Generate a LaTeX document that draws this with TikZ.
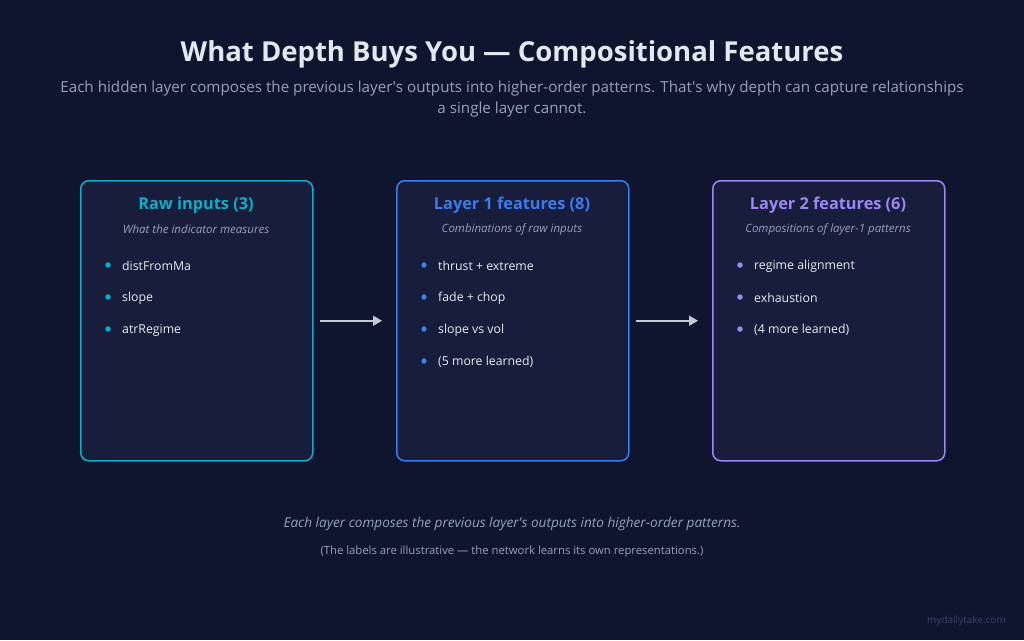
\documentclass[tikz,border=0pt]{standalone}
\usepackage{fontspec}
\setmainfont{Open Sans}
\usetikzlibrary{arrows.meta}
\definecolor{bg}{HTML}{10152F}
\definecolor{boxfill}{HTML}{181D3B}
\definecolor{cyanc}{HTML}{0AAFC8}
\definecolor{bluec}{HTML}{3B7BEF}
\definecolor{purplec}{HTML}{9D86F5}
\definecolor{titlec}{HTML}{E2E8F0}
\definecolor{grayc}{HTML}{94A3B8}
\definecolor{itemc}{HTML}{E8ECF4}
\definecolor{arrowc}{HTML}{C4CAD4}
\definecolor{markc}{HTML}{3A4468}
\tikzset{
  panel/.style={draw=#1, line width=1.5pt, fill=boxfill, rounded corners=8pt, minimum width=232pt, minimum height=280pt, anchor=north west, inner sep=0pt},
  head/.style={text=#1, font=\fontsize{16.3}{19}\selectfont\bfseries, inner sep=0pt},
  sub/.style={text=grayc, font=\fontsize{11.5}{13}\selectfont\itshape, inner sep=0pt},
  item/.style={text=itemc, font=\fontsize{12.3}{15}\selectfont, anchor=west, inner sep=0pt},
  dot/.style={circle, fill=#1, minimum size=5.5pt, inner sep=0pt},
  conn/.style={draw=arrowc, line width=1.5pt, -{Triangle[length=9pt,width=10pt]}},
}
\begin{document}
\begin{tikzpicture}[x=1pt,y=-1pt]
\fill[bg] (0,0) rectangle (1024,640);
\useasboundingbox (0,0) rectangle (1024,640);
\node[text=titlec, font=\fontsize{27.5}{32}\selectfont\bfseries, inner sep=0pt] (title) at (512,54) {What Depth Buys You — Compositional Features};
\node[text=grayc, font=\fontsize{15.2}{21}\selectfont, align=center, inner sep=0pt] (subtitle) at (512,99.5) {Each hidden layer composes the previous layer\textquotesingle s outputs into higher-order patterns. That\textquotesingle s why depth can capture relationships\\a single layer cannot.};
% panels
\node[panel=cyanc] (p1) at (80,180) {};
\node[panel=bluec] (p2) at (396,180) {};
\node[panel=purplec] (p3) at (712,180) {};
% panel 1
\node[head=cyanc] (h1) at (196,205.5) {Raw inputs (3)};
\node[sub] (s1) at (196,229) {What the indicator measures};
\node[dot=cyanc] (d11) at (108,265) {};
\node[item] (i11) at (122,266) {distFromMa};
\node[dot=cyanc] (d12) at (108,297) {};
\node[item] (i12) at (122,298) {slope};
\node[dot=cyanc] (d13) at (108,329) {};
\node[item] (i13) at (122,330) {atrRegime};
% panel 2
\node[head=bluec] (h2) at (512,205.5) {Layer 1 features (8)};
\node[sub] (s2) at (512,229) {Combinations of raw inputs};
\node[dot=bluec] (d21) at (424,265) {};
\node[item] (i21) at (438,266) {thrust + extreme};
\node[dot=bluec] (d22) at (424,297) {};
\node[item] (i22) at (438,298) {fade + chop};
\node[dot=bluec] (d23) at (424,329) {};
\node[item] (i23) at (438,330) {slope vs vol};
\node[dot=bluec] (d24) at (424,361) {};
\node[item] (i24) at (438,362) {(5 more learned)};
% panel 3
\node[head=purplec] (h3) at (828,205.5) {Layer 2 features (6)};
\node[sub] (s3) at (828,229) {Compositions of layer-1 patterns};
\node[dot=purplec] (d31) at (740,265) {};
\node[item] (i31) at (754,266) {regime alignment};
\node[dot=purplec] (d32) at (740,297) {};
\node[item] (i32) at (754,298) {exhaustion};
\node[dot=purplec] (d33) at (740,329) {};
\node[item] (i33) at (754,330) {(4 more learned)};
% connectors
\draw[conn, shorten <=6pt, shorten >=14pt] (p1.east) -- (p2.west);
\draw[conn, shorten <=6pt, shorten >=14pt] (p2.east) -- (p3.west);
% footer
\node[text=grayc, font=\fontsize{13.6}{16}\selectfont\itshape, inner sep=0pt] (foot1) at (512,524) {Each layer composes the previous layer\textquotesingle s outputs into higher-order patterns.};
\node[text=grayc, font=\fontsize{11.3}{13}\selectfont, inner sep=0pt] (foot2) at (512,552) {(The labels are illustrative — the network learns its own representations.)};
\node[text=markc, font=\fontsize{10}{12}\selectfont, anchor=east, inner sep=0pt] (mark) at (1006,621) {mydailytake.com};
\end{tikzpicture}
\end{document}
